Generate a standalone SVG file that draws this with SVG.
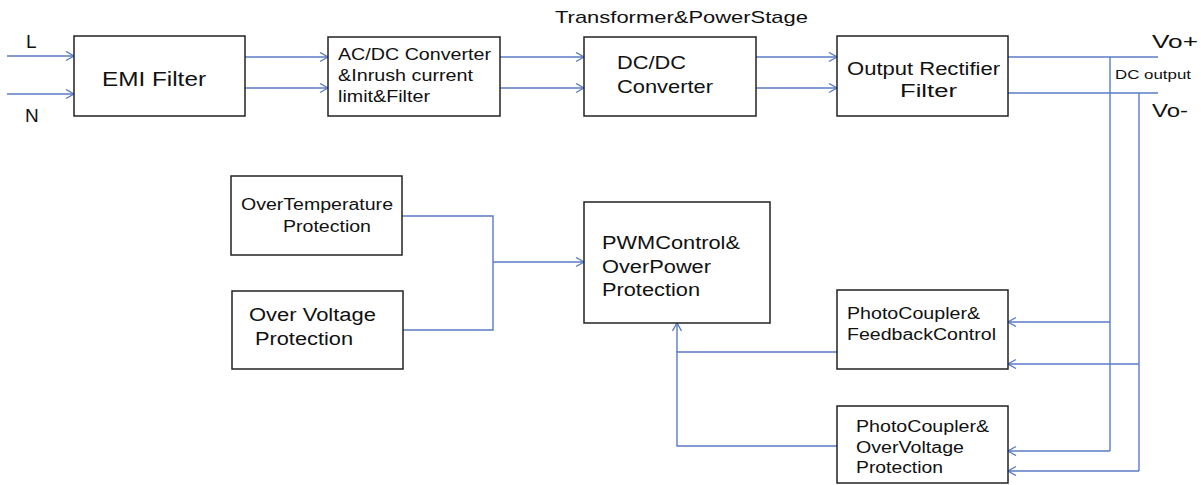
<svg xmlns="http://www.w3.org/2000/svg" width="1201" height="485" viewBox="0 0 1201 485">
<style>
.box{fill:#fff;stroke:#222;stroke-width:1.5}
.t{font-family:"Liberation Sans",Arial,sans-serif;fill:#111}
.w{fill:none;stroke:#5a7bc8;stroke-width:1.4}
.a{marker-end:url(#arr)}
</style>
<defs>
<marker id="arr" markerUnits="userSpaceOnUse" markerWidth="12" markerHeight="12" refX="9" refY="5" orient="auto">
<path d="M1,0.5 L9,5 L1,9.5" fill="none" stroke="#5a7bc8" stroke-width="1.4"/>
</marker>
</defs>
<rect width="1201" height="485" fill="#fff"/>
<g id="connectors">
<line class="w a" x1="7" y1="56" x2="74" y2="56"/>
<line class="w a" x1="7" y1="94" x2="74" y2="94"/>
<line class="w a" x1="245" y1="57" x2="328" y2="57"/>
<line class="w a" x1="245" y1="88" x2="328" y2="88"/>
<line class="w a" x1="500" y1="57" x2="584" y2="57"/>
<line class="w a" x1="500" y1="88" x2="584" y2="88"/>
<line class="w a" x1="756" y1="57" x2="837" y2="57"/>
<line class="w a" x1="756" y1="88" x2="837" y2="88"/>
<line class="w" x1="1008" y1="57" x2="1158" y2="57"/>
<line class="w" x1="1008" y1="93" x2="1158" y2="93"/>
<line class="w" x1="1110" y1="57" x2="1110" y2="451"/>
<line class="w" x1="1139" y1="93" x2="1139" y2="471"/>
<line class="w a" x1="1110" y1="322" x2="1008" y2="322"/>
<line class="w a" x1="1139" y1="364" x2="1008" y2="364"/>
<line class="w a" x1="1110" y1="451" x2="1008" y2="451"/>
<line class="w a" x1="1139" y1="471" x2="1008" y2="471"/>
<polyline class="w" points="402,216 493,216 493,330 402,330"/>
<line class="w a" x1="493" y1="262" x2="584" y2="262"/>
<polyline class="w" points="837,352 677,352 677,446 837,446"/>
<line class="w a" x1="677" y1="352" x2="677" y2="323"/>
</g>
<g id="labels">
<text class="t" x="26" y="48" font-size="19">L</text>
<text class="t" x="25" y="122" font-size="19">N</text>
<text class="t" x="555" y="23" font-size="17" textLength="253" lengthAdjust="spacingAndGlyphs">Transformer&amp;PowerStage</text>
<text class="t" x="1152" y="48" font-size="18" textLength="46" lengthAdjust="spacingAndGlyphs">Vo+</text>
<text class="t" x="1115" y="79" font-size="13" textLength="76" lengthAdjust="spacingAndGlyphs">DC output</text>
<text class="t" x="1152" y="117" font-size="18" textLength="36" lengthAdjust="spacingAndGlyphs">Vo-</text>
</g>
<g id="emi">
<rect class="box" x="74" y="36" width="171" height="80"/>
<text class="t" x="102" y="86" font-size="20" textLength="104" lengthAdjust="spacingAndGlyphs">EMI Filter</text>
</g>
<g id="acdc">
<rect class="box" x="328" y="37" width="172" height="79"/>
<text class="t" x="338" y="60" font-size="17" textLength="153" lengthAdjust="spacingAndGlyphs">AC/DC Converter</text>
<text class="t" x="338" y="81" font-size="17" textLength="135" lengthAdjust="spacingAndGlyphs">&amp;Inrush current</text>
<text class="t" x="338" y="102" font-size="17" textLength="92" lengthAdjust="spacingAndGlyphs">limit&amp;Filter</text>
</g>
<g id="dcdc">
<rect class="box" x="584" y="37" width="172" height="79"/>
<text class="t" x="617" y="69" font-size="19" textLength="69" lengthAdjust="spacingAndGlyphs">DC/DC</text>
<text class="t" x="617" y="93" font-size="19" textLength="96" lengthAdjust="spacingAndGlyphs">Converter</text>
</g>
<g id="rectifier">
<rect class="box" x="837" y="36" width="171" height="80"/>
<text class="t" x="847" y="75" font-size="18" textLength="153" lengthAdjust="spacingAndGlyphs">Output Rectifier</text>
<text class="t" x="900" y="97" font-size="18" textLength="57" lengthAdjust="spacingAndGlyphs">Filter</text>
</g>
<g id="overtemp">
<rect class="box" x="231" y="176" width="171" height="79"/>
<text class="t" x="241" y="210" font-size="16" textLength="152" lengthAdjust="spacingAndGlyphs">OverTemperature</text>
<text class="t" x="283" y="232" font-size="16" textLength="88" lengthAdjust="spacingAndGlyphs">Protection</text>
</g>
<g id="overvoltage">
<rect class="box" x="232" y="291" width="171" height="78"/>
<text class="t" x="249" y="321" font-size="18" textLength="127" lengthAdjust="spacingAndGlyphs">Over Voltage</text>
<text class="t" x="255" y="345" font-size="18" textLength="98" lengthAdjust="spacingAndGlyphs">Protection</text>
</g>
<g id="pwm">
<rect class="box" x="584" y="202" width="186" height="121"/>
<text class="t" x="602" y="249" font-size="18" textLength="138" lengthAdjust="spacingAndGlyphs">PWMControl&amp;</text>
<text class="t" x="602" y="273" font-size="18" textLength="109" lengthAdjust="spacingAndGlyphs">OverPower</text>
<text class="t" x="602" y="296" font-size="18" textLength="98" lengthAdjust="spacingAndGlyphs">Protection</text>
</g>
<g id="feedback">
<rect class="box" x="837" y="290" width="171" height="79"/>
<text class="t" x="847" y="319" font-size="16" textLength="133" lengthAdjust="spacingAndGlyphs">PhotoCoupler&amp;</text>
<text class="t" x="847" y="340" font-size="16" textLength="149" lengthAdjust="spacingAndGlyphs">FeedbackControl</text>
</g>
<g id="ovp">
<rect class="box" x="837" y="406" width="171" height="77"/>
<text class="t" x="856" y="432" font-size="16" textLength="133" lengthAdjust="spacingAndGlyphs">PhotoCoupler&amp;</text>
<text class="t" x="856" y="453" font-size="16" textLength="108" lengthAdjust="spacingAndGlyphs">OverVoltage</text>
<text class="t" x="856" y="473" font-size="16" textLength="87" lengthAdjust="spacingAndGlyphs">Protection</text>
</g>
</svg>
